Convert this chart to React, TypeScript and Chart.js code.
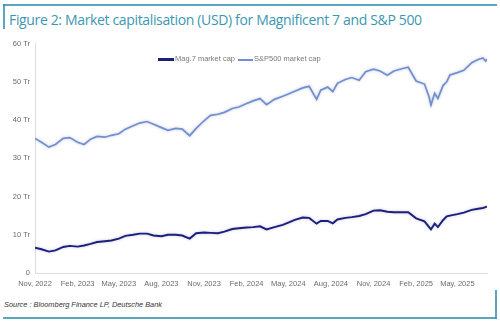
import React, { useEffect, useRef } from "react";
import { Chart, registerables } from "chart.js";

Chart.register(...registerables);

const dates: string[] = [
  "2022-11-01", "2022-11-15", "2022-12-01", "2022-12-15", "2023-01-01", "2023-01-15",
  "2023-02-01", "2023-02-15", "2023-03-01", "2023-03-15", "2023-04-01", "2023-04-15",
  "2023-05-01", "2023-05-15", "2023-06-01", "2023-06-15", "2023-07-01", "2023-07-15",
  "2023-08-01", "2023-08-15", "2023-09-01", "2023-09-15", "2023-10-01", "2023-10-15",
  "2023-11-01", "2023-11-15", "2023-12-01", "2023-12-15", "2024-01-01", "2024-01-15",
  "2024-02-01", "2024-02-15", "2024-03-01", "2024-03-15", "2024-04-01", "2024-04-19",
  "2024-05-01", "2024-05-15", "2024-06-01", "2024-06-15", "2024-07-01", "2024-07-10",
  "2024-07-25", "2024-08-05", "2024-08-15", "2024-09-01", "2024-09-15", "2024-10-01",
  "2024-10-15", "2024-11-01", "2024-11-15", "2024-12-01", "2024-12-15", "2025-01-01",
  "2025-01-15", "2025-02-01", "2025-02-19", "2025-03-01", "2025-03-05", "2025-03-13",
  "2025-03-20", "2025-03-31", "2025-04-08", "2025-04-15", "2025-05-01", "2025-05-15",
  "2025-06-01", "2025-06-15", "2025-06-25", "2025-07-01", "2025-07-04",
];

const sp500Cap: number[] = [
  35.2, 34.2, 32.9, 33.6, 35.2, 35.4,
  34.2, 33.6, 35.0, 35.7, 35.5, 36.0,
  36.4, 37.6, 38.5, 39.2, 39.6, 38.9,
  38.0, 37.3, 37.8, 37.6, 35.9, 37.8,
  39.8, 41.2, 41.5, 42.0, 43.0, 43.4,
  44.3, 45.0, 45.6, 44.0, 45.4, 46.2,
  46.8, 47.5, 48.4, 48.8, 45.4, 47.8,
  48.6, 47.4, 49.6, 50.6, 51.1, 50.4,
  52.6, 53.3, 52.8, 51.7, 52.8, 53.4,
  53.8, 50.2, 49.4, 46.0, 43.9, 47.0,
  45.6, 49.0, 50.0, 51.8, 52.4, 53.0,
  55.0, 55.8, 56.2, 55.4, 55.9,
];

const mag7Cap: number[] = [
  6.6, 6.2, 5.6, 5.9, 6.8, 7.1,
  6.9, 7.2, 7.6, 8.1, 8.3, 8.5,
  9.0, 9.7, 10.0, 10.3, 10.3, 9.8,
  9.6, 10.0, 10.0, 9.8, 9.0, 10.4,
  10.6, 10.5, 10.4, 10.8, 11.5, 11.7,
  11.9, 12.0, 12.2, 11.4, 12.0, 12.6,
  13.2, 13.9, 14.5, 14.4, 12.9, 13.6,
  13.6, 13.0, 14.0, 14.4, 14.6, 14.9,
  15.4, 16.3, 16.4, 16.0, 15.9, 15.9,
  15.9, 14.3, 13.5, 12.0, 11.4, 12.9,
  12.0, 13.8, 14.8, 15.0, 15.4, 15.8,
  16.5, 16.8, 17.0, 17.2, 17.4,
];

const tickDates: string[] = [
  "2022-11-01", "2023-02-01", "2023-05-01", "2023-08-01", "2023-11-01", "2024-02-01",
  "2024-05-01", "2024-08-01", "2024-11-01", "2025-02-01", "2025-05-01",
];
const tickLabels: string[] = [
  "Nov, 2022", "Feb, 2023", "May, 2023", "Aug, 2023", "Nov, 2023", "Feb, 2024",
  "May, 2024", "Aug, 2024", "Nov, 2024", "Feb, 2025", "May, 2025",
];

const seriesNames: string[] = ["Mag.7 market cap", "S&P500 market cap"];
const TEAL = "#3c97b1";
const NAVY = "#1b2080";
const LIGHT_BLUE = "#6f8fd6";
const FONT = "'Liberation Sans', Arial, sans-serif";

const shadowPlugin = {
  id: "lineShadow",
  beforeDatasetDraw(chart: any) {
    const ctx = chart.ctx;
    ctx.save();
    ctx.shadowColor = "rgba(150,150,165,0.55)";
    ctx.shadowBlur = 3;
  },
  afterDatasetDraw(chart: any) {
    chart.ctx.restore();
  },
};

export default function App() {
  const ref = useRef<HTMLCanvasElement | null>(null);

  useEffect(() => {
    document.body.style.margin = "0";
    const xs = dates.map((d) => Date.parse(d));
    const tickVals = tickDates.map((d) => Date.parse(d));
    const chart = new Chart(ref.current as HTMLCanvasElement, {
      type: "line",
      data: {
        datasets: [
          {
            label: seriesNames[0],
            data: xs.map((x, i) => ({ x, y: mag7Cap[i] })),
            borderColor: NAVY,
            borderWidth: 1.9,
            pointRadius: 0,
            tension: 0,
          },
          {
            label: seriesNames[1],
            data: xs.map((x, i) => ({ x, y: sp500Cap[i] })),
            borderColor: LIGHT_BLUE,
            borderWidth: 1.7,
            pointRadius: 0,
            tension: 0,
          },
        ],
      },
      options: {
        animation: false,
        responsive: false,
        devicePixelRatio: 1,
        layout: { padding: { left: 0, right: 13, top: 7, bottom: 0 } },
        plugins: {
          legend: { display: false },
          tooltip: { enabled: false },
        },
        scales: {
          x: {
            type: "linear",
            min: xs[0],
            max: xs[xs.length - 1],
            grid: { display: false, drawTicks: false },
            border: { display: true, color: "#dcdcdc", width: 1 },
            afterBuildTicks: (scale: any) => {
              scale.ticks = tickVals.map((v) => ({ value: v }));
            },
            afterFit: (scale: any) => {
              scale.height = 23;
            },
            ticks: {
              autoSkip: false,
              maxRotation: 0,
              padding: 6,
              color: "#6a6a6a",
              font: { family: FONT, size: 7.5 },
              callback: (v: any) => {
                const i = tickVals.indexOf(Number(v));
                return i >= 0 ? tickLabels[i] : "";
              },
            },
          },
          y: {
            min: 0,
            max: 60,
            grid: { display: false, drawTicks: false },
            border: { display: true, color: "#dcdcdc", width: 1 },
            afterFit: (scale: any) => {
              scale.width = 35;
            },
            ticks: {
              stepSize: 10,
              padding: 5,
              color: "#6a6a6a",
              font: { family: FONT, size: 7.5 },
              callback: (v: any) => (Number(v) === 0 ? "0" : `${v} Tr`),
            },
          },
        },
      },
      plugins: [shadowPlugin],
    });
    return () => chart.destroy();
  }, []);

  const legendText: React.CSSProperties = {
    position: "absolute",
    top: 54,
    fontFamily: FONT,
    fontSize: 7.5,
    color: "#7a7a7a",
    whiteSpace: "nowrap",
    lineHeight: "10px",
  };

  return (
    <div style={{ position: "relative", width: 500, height: 322, background: "#fff", overflow: "hidden" }}>
      <div style={{ position: "absolute", left: 3, top: 4, width: 494, height: 2, background: TEAL, opacity: 0.85 }} />
      <div style={{ position: "absolute", left: 3, top: 4, width: 2, height: 25, background: TEAL, opacity: 0.85 }} />
      <div
        style={{
          position: "absolute",
          left: 9,
          top: 11,
          fontFamily: "'Open Sans', sans-serif",
          fontSize: 14,
          color: TEAL,
          whiteSpace: "nowrap",
          lineHeight: "18px",
          letterSpacing: -0.35,
        }}
      >
        Figure 2: Market capitalisation (USD) for Magnificent 7 and S&amp;P 500
      </div>
      <canvas ref={ref} width={500} height={262} style={{ position: "absolute", left: 0, top: 34, width: 500, height: 262 }} />
      <div style={{ position: "absolute", left: 158, top: 58, width: 16, height: 2.5, background: NAVY }} />
      <div style={{ ...legendText, left: 175 }}>{seriesNames[0]}</div>
      <div style={{ position: "absolute", left: 238, top: 58.5, width: 15, height: 2, background: LIGHT_BLUE }} />
      <div style={{ ...legendText, left: 254 }}>{seriesNames[1]}</div>
      <div
        style={{
          position: "absolute",
          left: 4,
          top: 300,
          fontFamily: FONT,
          fontStyle: "italic",
          fontSize: 7.4,
          color: "#333",
          whiteSpace: "nowrap",
          lineHeight: "10px",
        }}
      >
        Source : Bloomberg Finance LP, Deutsche Bank
      </div>
      <div style={{ position: "absolute", left: 3, top: 317, width: 494, height: 2, background: TEAL, opacity: 0.85 }} />
      <div style={{ position: "absolute", left: 495, top: 290, width: 2, height: 29, background: TEAL, opacity: 0.85 }} />
    </div>
  );
}
